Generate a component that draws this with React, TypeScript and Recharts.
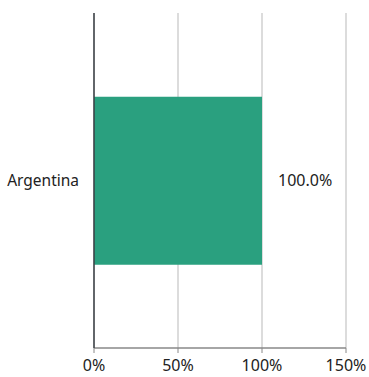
import { BarChart, Bar, XAxis, YAxis, CartesianGrid, LabelList } from 'recharts'

const countries = ['Argentina']
const shares = [100]
const xTicks = [0, 50, 100, 150]

const data = countries.map((name, i) => ({ name, share: shares[i] }))

const font = '"Noto Sans", "Open Sans", sans-serif'

export default function App() {
  return (
    <div style={{ position: 'absolute', left: 0, top: 0, background: '#fff' }}>
      <BarChart
        width={369}
        height={377}
        data={data}
        layout="vertical"
        margin={{ top: 13, right: 23, bottom: 0, left: 0 }}
        barCategoryGap="25%"
      >
        <CartesianGrid horizontal={false} stroke="#d0d0d0" strokeWidth={1.5} />
        <XAxis
          type="number"
          domain={[0, 150]}
          ticks={xTicks}
          tickFormatter={(v: number) => `${v}%`}
          axisLine={{ stroke: '#888', strokeWidth: 1.5 }}
          tickLine={{ stroke: '#888' }}
          tickSize={5}
          tickMargin={7}
          height={29}
          tick={{ fontSize: 16, fill: '#222', fontFamily: font }}
        />
        <YAxis
          type="category"
          dataKey="name"
          width={94}
          axisLine={{ stroke: '#3a3f44', strokeWidth: 1.5 }}
          tickLine={false}
          tickMargin={9}
          tick={{ fontSize: 15.5, fill: '#222', fontFamily: font }}
        />
        <Bar dataKey="share" fill="#2aa07f" isAnimationActive={false}>
          <LabelList
            dataKey="share"
            position="right"
            offset={16}
            formatter={(v: any) => `${Number(v).toFixed(1)}%`}
            style={{ fontSize: 16, fill: '#222', fontFamily: font }}
          />
        </Bar>
      </BarChart>
    </div>
  )
}
